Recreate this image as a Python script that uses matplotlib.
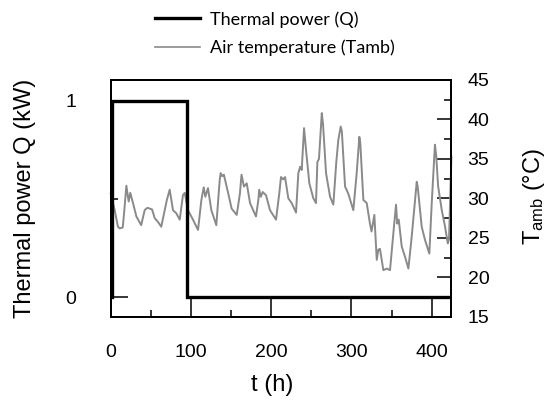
import matplotlib
matplotlib.use("Agg")
import matplotlib.pyplot as plt
from matplotlib.ticker import MultipleLocator, FixedLocator
from matplotlib.lines import Line2D

plt.rcParams['font.family'] = ['Liberation Sans', 'DejaVu Sans']
plt.rcParams['mathtext.default'] = 'regular'

# Thermal power step (kW)
q_time = [2, 2, 95, 95, 424]
q_power = [0, 1, 1, 0, 0]

# Air temperature (°C)
t_time = [0, 5, 9, 11, 15, 17, 19.5, 22.4, 24.4, 27.8, 32, 38, 42.3, 44.4, 46, 48.6,
          51.5, 54.8, 59, 63, 67.3, 70, 73.5, 77.6, 81.8, 86, 90, 92.2, 96.3, 102.5,
          108.8, 113, 115.9, 117.9, 121.2, 125.4, 131.6, 135.8, 137, 139, 141, 146.5,
          150.7, 157, 161, 163, 166, 169.5, 173.6, 181, 184, 185, 187, 189.4, 193.5,
          198.5, 206, 210, 212.2, 215, 217.2, 221.3, 225.5, 230.9, 233.8, 236, 238,
          240.9, 243.4, 247.5, 252.5, 255.8, 257.5, 259.5, 263, 264.5, 268.3, 273.3,
          277.4, 281, 283.6, 286.6, 288, 292, 296, 302.3, 306.5, 309.8, 311, 314.8,
          319, 323, 325, 328.5, 331.5, 333.5, 335.5, 339.7, 344, 348, 352.2, 355.5,
          357, 358.9, 362.6, 366.7, 370.9, 375, 381.3, 382.5, 387.5, 391.7, 397, 400,
          404, 405.5, 408, 412.5, 416.6, 420, 421.5, 424.5]
t_amb = [30.6, 28.5, 26.4, 26.2, 26.3, 28.5, 31.6, 29.6, 30.7, 29.4, 27.7, 26.6, 28.5,
         28.7, 28.8, 28.7, 28.6, 27.5, 27.0, 26.4, 28.5, 29.8, 31.1, 28.5, 28.1, 27.3,
         30.4, 30.7, 28.5, 27.3, 26.0, 29.8, 31.4, 30.2, 31.3, 28.5, 26.6, 32.3, 33.2,
         32.8, 33.0, 30.6, 28.7, 27.9, 30.6, 33.0, 31.5, 31.9, 29.4, 27.7, 29.8, 31.1,
         30.2, 30.8, 30.4, 28.5, 27.3, 30.6, 32.7, 32.4, 32.7, 30.0, 29.4, 28.2, 33.2,
         34.0, 33.6, 38.9, 36.1, 31.9, 30.0, 29.4, 34.6, 35.0, 40.8, 39.5, 33.2, 30.2,
         29.2, 34.5, 37.4, 39.1, 38.5, 31.5, 30.6, 28.5, 33.2, 37.8, 37.0, 29.8, 29.4,
         26.8, 25.8, 27.9, 22.2, 23.5, 23.6, 20.9, 21.1, 20.9, 25.6, 29.2, 26.8, 27.3,
         23.9, 22.6, 21.1, 25.1, 32.1, 31.5, 26.4, 24.7, 23.0, 29.4, 36.8, 35.5, 31.5,
         28.5, 26.4, 24.3, 24.8, 35.3]

x_ticks = [0, 100, 200, 300, 400]
q_ticks = [0, 1]
t_ticks = [15, 20, 25, 30, 35, 40, 45]

fig = plt.figure(figsize=(5.5, 4.05), dpi=100)
ax = fig.add_axes([110.7 / 550, 1 - 316.7 / 405, (451 - 110.7) / 550, (316.7 - 80) / 405])
ax2 = ax.twinx()

ax2.plot(t_time, t_amb, color='#8a8a8a', lw=1.4, clip_on=False)
ax.plot(q_time, q_power, color='black', lw=2.4, solid_joinstyle='miter')

ax.set_zorder(ax2.get_zorder() + 1)
ax.patch.set_visible(False)

ax.set_xlim(0, 424)
ax.set_ylim(-0.1, 1.105)
ax2.set_ylim(15, 45)

ax.xaxis.set_major_locator(FixedLocator(x_ticks))
ax.xaxis.set_minor_locator(MultipleLocator(50))
ax.yaxis.set_major_locator(FixedLocator(q_ticks))
ax.yaxis.set_minor_locator(FixedLocator([0.5]))
ax2.yaxis.set_major_locator(FixedLocator(t_ticks))
ax2.yaxis.set_minor_locator(MultipleLocator(2.5))

ax.tick_params(axis='x', which='major', direction='in', length=14.4, width=1.1,
               labelsize=14, pad=20, top=False)
ax.tick_params(axis='x', which='minor', direction='in', length=5, width=1.1, top=False)
ax.tick_params(axis='y', which='major', direction='in', length=12.2, width=1.1,
               labelsize=14, pad=25)
ax.tick_params(axis='y', which='minor', direction='in', length=5, width=1.1)
ax2.tick_params(axis='y', which='major', direction='in', length=10, width=1.1,
                labelsize=14, pad=12)
ax2.tick_params(axis='y', which='minor', direction='in', length=5, width=1.1)

for a in (ax, ax2):
    for s in a.spines.values():
        s.set_linewidth(1.3)

fig.text(25 / 550, 1 - 198 / 405, 'Thermal power Q (kW)', rotation=90,
         ha='center', va='center', fontsize=17)
fig.text(534 / 550, 1 - 197 / 405, 'T$_{amb}$ (°C)', rotation=90,
         ha='center', va='center', fontsize=17)
fig.text(272 / 550, 1 - 385 / 405, 't (h)', ha='center', va='center', fontsize=17)

handles = [Line2D([], [], color='black', lw=2.4),
           Line2D([], [], color='#8a8a8a', lw=1.2)]
fig.legend(handles, ['Thermal power (Q)', 'Air temperature (Tamb)'],
           loc='upper left', bbox_to_anchor=(155 / 550, 1 - 11 / 405),
           frameon=False, borderpad=0, borderaxespad=0, handlelength=2.5,
           handletextpad=0.55, labelspacing=0.65,
           prop={'family': ['Lato', 'DejaVu Sans'], 'size': 13})

fig.savefig('out.png', dpi=100)
